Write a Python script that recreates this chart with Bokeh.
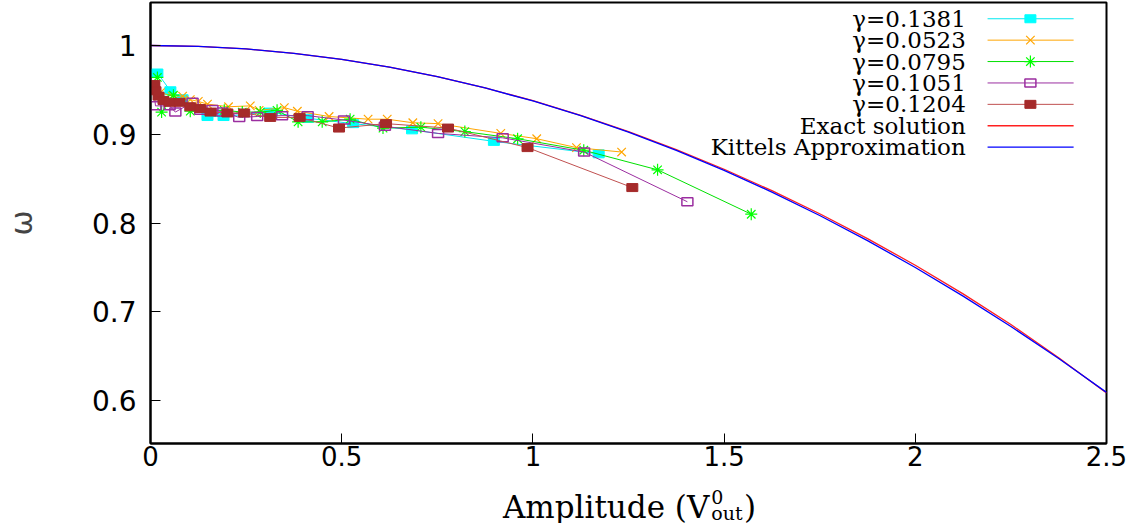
from bokeh.plotting import figure
from bokeh.models import Range1d, FixedTicker
from bokeh.layouts import column
from bokeh.core.properties import value
from bokeh.embed import file_html
from bokeh.resources import INLINE

# ---------------- data ----------------
X_TICKS = [0, 0.5, 1, 1.5, 2, 2.5]
X_TICK_LABELS = ["0", "0.5", "1", "1.5", "2", "2.5"]
Y_TICKS = [0.6, 0.7, 0.8, 0.9, 1.0]
Y_TICK_LABELS = ["0.6", "0.7", "0.8", "0.9", "1"]

# gamma = 0.1381
amp_g1381 = [0.018, 0.052, 0.084, 0.149, 0.191, 0.311, 0.412, 0.530, 0.684, 0.898, 1.172]
omg_g1381 = [0.969, 0.949, 0.940, 0.920, 0.920, 0.925, 0.918, 0.912, 0.905, 0.892, 0.878]

# gamma = 0.0523
amp_g0523 = [0.026, 0.057, 0.084, 0.104, 0.125, 0.149, 0.204, 0.261, 0.284, 0.350,
             0.384, 0.467, 0.569, 0.619, 0.686, 0.752, 0.916, 1.010, 1.114, 1.232]
omg_g0523 = [0.947, 0.943, 0.943, 0.939, 0.937, 0.934, 0.931, 0.932, 0.927, 0.930,
             0.926, 0.920, 0.917, 0.917, 0.913, 0.912, 0.901, 0.895, 0.885, 0.880]

# gamma = 0.0795
amp_g0795 = [0.018, 0.029, 0.060, 0.104, 0.193, 0.240, 0.287, 0.331, 0.386, 0.449,
             0.522, 0.608, 0.707, 0.822, 0.960, 1.133, 1.326, 1.571]
omg_g0795 = [0.964, 0.925, 0.944, 0.926, 0.927, 0.925, 0.925, 0.927, 0.914, 0.914,
             0.917, 0.907, 0.908, 0.903, 0.895, 0.882, 0.860, 0.810]

# gamma = 0.1051
amp_g1051 = [0.008, 0.013, 0.050, 0.065, 0.110, 0.130, 0.162, 0.188, 0.232, 0.279,
             0.344, 0.411, 0.506, 0.613, 0.752, 0.921, 1.134, 1.404]
omg_g1051 = [0.954, 0.932, 0.932, 0.925, 0.936, 0.927, 0.928, 0.925, 0.919, 0.920,
             0.921, 0.921, 0.916, 0.909, 0.901, 0.896, 0.880, 0.824]

# gamma = 0.1204
amp_g1204 = [0.010, 0.013, 0.021, 0.034, 0.050, 0.076, 0.104, 0.130, 0.157, 0.201,
             0.245, 0.313, 0.390, 0.493, 0.616, 0.778, 0.986, 1.260]
omg_g1204 = [0.956, 0.949, 0.943, 0.938, 0.936, 0.936, 0.931, 0.929, 0.925, 0.924,
             0.924, 0.919, 0.919, 0.907, 0.912, 0.907, 0.885, 0.840]

# smooth curves
amp_curve = [0.0, 0.125, 0.25, 0.375, 0.5, 0.625, 0.75, 0.875, 1.0, 1.125, 1.25,
             1.375, 1.5, 1.625, 1.75, 1.875, 2.0, 2.125, 2.25, 2.375, 2.5]
omg_exact = [1.0, 0.99902, 0.99610, 0.99122, 0.98440, 0.97564, 0.96494, 0.95230,
             0.93779, 0.92135, 0.90301, 0.88276, 0.86061, 0.83656, 0.81053, 0.78257,
             0.75250, 0.72027, 0.68580, 0.64846, 0.60865]
omg_kittel = [1.0, 0.99902, 0.99609, 0.99121, 0.98438, 0.97559, 0.96484, 0.95215,
              0.93750, 0.92090, 0.90234, 0.88184, 0.85938, 0.83496, 0.80859, 0.78027,
              0.75000, 0.71777, 0.68359, 0.64746, 0.60938]

SERIES = [
    ("γ=0.1381", amp_g1381, omg_g1381, "#00e8f0", "#00ffff", "square"),
    ("γ=0.0523", amp_g0523, omg_g0523, "#ffa500", "#ffa500", "x"),
    ("γ=0.0795", amp_g0795, omg_g0795, "#00e000", "#00ff00", "asterisk"),
    ("γ=0.1051", amp_g1051, omg_g1051, "#9b2ea0", "#9b2ea0", "open_square"),
    ("γ=0.1204", amp_g1204, omg_g1204, "#c05050", "#a52a2a", "square"),
]
CURVES = [
    ("Exact solution", amp_curve, omg_exact, "#ff2020"),
    ("Kittels Approximation", amp_curve, omg_kittel, "#0000ff"),
]

W = 1145
BORDER_L = 148
BORDER_R = 39

# ---------------- main figure ----------------
p = figure(width=W, height=477,
           x_range=Range1d(0, 2.5), y_range=Range1d(0.5518, 1.0484),
           output_backend="svg", toolbar_location=None,
           min_border_left=BORDER_L, min_border_right=BORDER_R,
           min_border_top=2, min_border_bottom=34)
p.background_fill_color = "white"
p.border_fill_color = "white"
p.outline_line_color = "black"
p.outline_line_width = 2
p.xgrid.visible = False
p.ygrid.visible = False

for ax in (p.xaxis, p.yaxis):
    ax.axis_line_color = "black"
    ax.axis_line_width = 2
    ax.major_tick_in = 10
    ax.major_tick_out = 0
    ax.major_tick_line_width = 1
    ax.minor_tick_in = 0
    ax.minor_tick_out = 0
    ax.major_label_text_font = "DejaVu Sans"
    ax.major_label_text_color = "black"

p.xaxis.ticker = FixedTicker(ticks=X_TICKS)
p.xaxis.major_label_overrides = {t: s for t, s in zip(X_TICKS, X_TICK_LABELS)}
p.xaxis.major_label_text_font_size = "26px"
p.xaxis.major_label_standoff = 2
p.yaxis.ticker = FixedTicker(ticks=Y_TICKS)
p.yaxis.major_label_overrides = {t: s for t, s in zip(Y_TICKS, Y_TICK_LABELS)}
p.yaxis.major_label_text_font_size = "28px"
p.yaxis.major_label_standoff = 14

p.yaxis.axis_label = "ω"
p.yaxis.axis_label_text_font = "DejaVu Sans"
p.yaxis.axis_label_text_font_size = "30px"
p.yaxis.axis_label_text_font_style = "normal"
p.yaxis.axis_label_standoff = 50


def draw_markers(kind, xs, ys, color):
    if kind == "square":
        p.rect(xs, ys, width=11, height=8, width_units="screen", height_units="screen",
               fill_color=color, line_color=color, line_width=1)
    elif kind == "open_square":
        p.rect(xs, ys, width=11, height=8, width_units="screen", height_units="screen",
               fill_color=None, line_color=color, line_width=1.5)
    elif kind == "x":
        p.scatter(xs, ys, marker="x", size=12, line_color=color, line_width=1.2)
    elif kind == "asterisk":
        p.scatter(xs, ys, marker="asterisk", size=12, line_color=color, line_width=1.2)


for name, xs, ys, lc, mc, kind in SERIES:
    p.line(xs, ys, line_color=lc, line_width=1)
    draw_markers(kind, xs, ys, mc)

for name, xs, ys, c in CURVES:
    p.line(xs, ys, line_color=c, line_width=1.3)

# ---------------- legend (samples on the right, gnuplot style) ----------------
LEG_TEXT_X = 2.132
LEG_LINE_X0 = 2.189
LEG_LINE_X1 = 2.414
LEG_MARK_X = 2.301
LEG_Y0 = 1.0301
LEG_DY = 0.0241
LEG_FONT = "DejaVu Serif"
LEG_SIZE = "23px"

labels = [s[0] for s in SERIES] + [c[0] for c in CURVES]
row_y = [LEG_Y0 - i * LEG_DY for i in range(len(labels))]
p.text(x=[LEG_TEXT_X] * len(labels), y=row_y, text=labels,
       text_font=value(LEG_FONT), text_font_size=LEG_SIZE,
       text_align="right", text_baseline="middle", text_color="black")
for i, (name, xs, ys, lc, mc, kind) in enumerate(SERIES):
    p.line([LEG_LINE_X0, LEG_LINE_X1], [row_y[i], row_y[i]], line_color=lc, line_width=1)
    draw_markers(kind, [LEG_MARK_X], [row_y[i]], mc)
for j, (name, xs, ys, c) in enumerate(CURVES):
    k = len(SERIES) + j
    p.line([LEG_LINE_X0, LEG_LINE_X1], [row_y[k], row_y[k]], line_color=c, line_width=1.3)

# ---------------- x axis title strip (with super/subscript) ----------------
XL_H = 46
p2 = figure(width=W, height=XL_H, x_range=p.x_range, y_range=Range1d(0, XL_H),
            output_backend="svg", toolbar_location=None,
            x_axis_type=None, y_axis_type=None,
            min_border_left=BORDER_L, min_border_right=BORDER_R,
            min_border_top=0, min_border_bottom=0)
p2.outline_line_color = None
p2.background_fill_color = "white"
p2.border_fill_color = "white"

XL_FONT = value("DejaVu Serif")
XL_PARTS = ["Amplitude (V", "0", "out", ")"]
XL_X = [1.4614, 1.4666, 1.4666, 1.5520]
XL_Y = [17, 27, 11, 17]
XL_ALIGN = ["right", "left", "left", "left"]
XL_SIZE = ["31px", "19px", "19px", "31px"]
for t, x, y, a, s in zip(XL_PARTS, XL_X, XL_Y, XL_ALIGN, XL_SIZE):
    p2.text(x=[x], y=[y], text=[t], text_font=XL_FONT, text_font_size=s,
            text_align=a, text_baseline="alphabetic", text_color="black")

layout = column(p, p2, spacing=0)
open("out.html", "w").write(file_html(layout, INLINE))
